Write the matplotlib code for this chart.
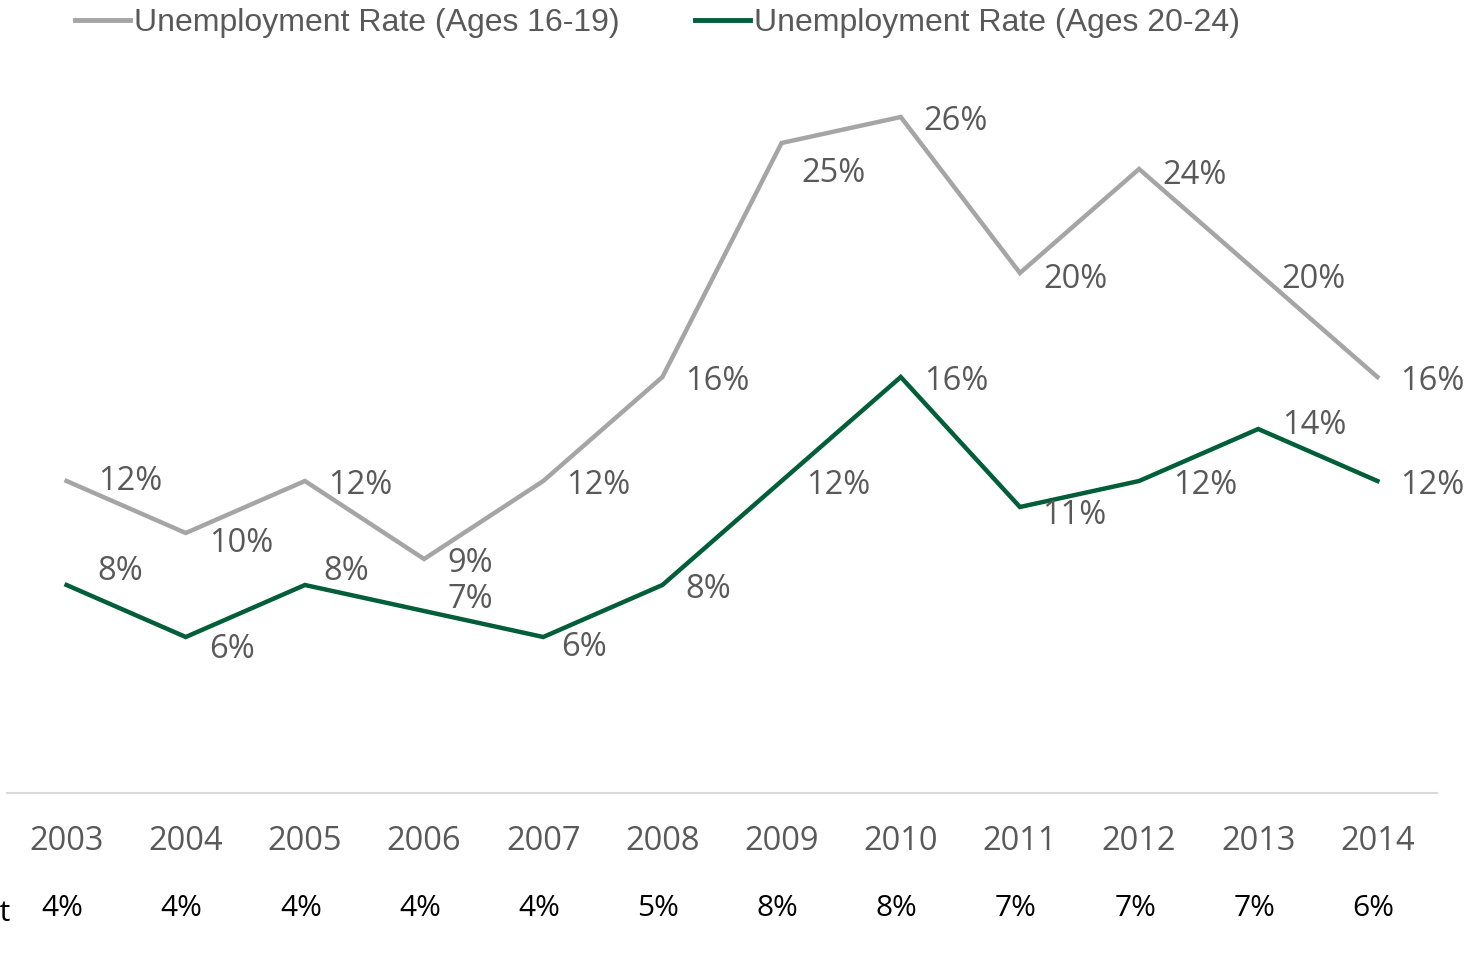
import matplotlib
matplotlib.use("Agg")
from matplotlib import pyplot as plt
from matplotlib.lines import Line2D

years = ["2003", "2004", "2005", "2006", "2007", "2008",
         "2009", "2010", "2011", "2012", "2013", "2014"]
teen_rate = [12, 10, 12, 9, 12, 16, 25, 26, 20, 24, 20, 16]
young_rate = [8, 6, 8, 7, 6, 8, 12, 16, 11, 12, 14, 12]
overall_rate = [4, 4, 4, 4, 4, 5, 8, 8, 7, 7, 7, 6]

# label offsets in pixels (dx right, dy down)
teen_dx = [31, 23, 23, 23, 23, 23, 20, 23, 23, 23, 23, 23]
teen_dy = [0, 10, 5, 5, 5, 4, 30, 5, 6, 6, 6, 4]
young_dx = [31, 23, 18, 23, 18, 23, 24, 23, 22, 34, 24, 23]
young_dy = [-14, 13, -14, -11, 10, 5, 5, 4, 9, 5, -3, 5]

gray = "#A5A5A5"
green = "#005E38"
text_col = "#595959"
label_font = "Open Sans"
legend_font = ["Liberation Sans Narrow", "Liberation Sans", "DejaVu Sans"]

fig = plt.figure(figsize=(14.78, 9.65), dpi=100)
ax = fig.add_axes([7 / 1478, 172 / 965, 1430 / 1478, 780 / 965])

x = list(range(len(years)))
ax.plot(x, teen_rate, color=gray, lw=3.2, solid_joinstyle="miter")
ax.plot(x, young_rate, color=green, lw=3.2, solid_joinstyle="miter")

for i in x:
    ax.annotate(f"{teen_rate[i]}%", (i, teen_rate[i]),
                xytext=(teen_dx[i], -teen_dy[i]), textcoords="offset pixels",
                ha="left", va="center", fontsize=23.5, color=text_col,
                family=label_font)
    ax.annotate(f"{young_rate[i]}%", (i, young_rate[i]),
                xytext=(young_dx[i], -young_dy[i]), textcoords="offset pixels",
                ha="left", va="center", fontsize=23.5, color=text_col,
                family=label_font)
    ax.annotate(f"{overall_rate[i]}%", (i, 0), xytext=(-4, -116),
                textcoords="offset pixels", ha="center", va="center",
                fontsize=21.5, color="black", family=label_font,
                annotation_clip=False)

ax.set_xlim(-0.5, len(years) - 0.5)
ax.set_ylim(0, 30)
ax.set_xticks(x)
ax.set_xticklabels(years, fontsize=23.5, color=text_col, family=label_font)
ax.tick_params(axis="x", length=0, pad=23)
ax.set_yticks([])
for side in ["top", "right", "left"]:
    ax.spines[side].set_visible(False)
ax.spines["bottom"].set_color("#D9D9D9")
ax.spines["bottom"].set_linewidth(1.5)

fig.text(0.007, 1 - 913 / 965, "Overall Unemployment", ha="right", va="center",
         fontsize=21.5, color="black", family=label_font)

handles = [Line2D([], [], color=gray, lw=3.5),
           Line2D([], [], color=green, lw=3.5)]
fig.legend(handles, ["Unemployment Rate (Ages 16-19)", "Unemployment Rate (Ages 20-24)"],
           loc="center left", bbox_to_anchor=(75 / 1478, 1 - 23 / 965), ncol=2,
           frameon=False, handlelength=1.72, handletextpad=0.125, columnspacing=2.35,
           borderpad=0, borderaxespad=0,
           prop={"family": legend_font, "size": 23}, labelcolor=text_col)

fig.savefig("out.png", dpi=100)
